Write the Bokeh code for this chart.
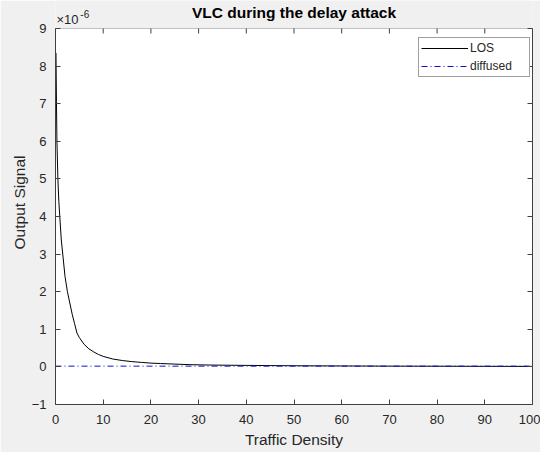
from bokeh.plotting import figure
from bokeh.models import (Range1d, FixedTicker, LinearAxis, Label, Legend, LegendItem,
                          ColumnDataSource, BoxAnnotation)
from bokeh.embed import file_html
from bokeh.resources import INLINE

# Data
traffic_density = [0.1, 0.2, 0.3, 0.5, 0.7, 0.9, 1.2, 1.6, 2.0, 2.5, 3.0, 3.5, 4.0, 4.5,
                   5.0, 6.0, 7.0, 8.0, 9.0, 10, 12, 14, 16, 18, 20, 22, 25, 28, 32, 36,
                   40, 45, 50, 60, 70, 80, 90, 100]
los_signal = [8.35, 7.05, 6.0, 5.0, 4.4, 4.0, 3.4, 2.9, 2.4, 2.0, 1.7, 1.4, 1.15, 0.9,
              0.78, 0.6, 0.48, 0.4, 0.33, 0.28, 0.21, 0.17, 0.14, 0.12, 0.10, 0.09,
              0.075, 0.06, 0.05, 0.045, 0.04, 0.035, 0.03, 0.025, 0.02, 0.018, 0.015, 0.013]
diffused_x = [0, 100]
diffused_signal = [0.02, 0.02]
x_ticks = [0, 10, 20, 30, 40, 50, 60, 70, 80, 90, 100]
y_ticks = [-1, 0, 1, 2, 3, 4, 5, 6, 7, 8, 9]
x_min, x_max = 0, 100
y_min, y_max = -1, 9

FONT = "Liberation Sans"
AX = "#404040"
TXT = "#262626"
BG = "#f0f0f0"

W, H = 540, 452
B_LEFT, B_RIGHT, B_TOP, B_BOTTOM = 55, 8, 28, 48
px_per_unit = (H - B_TOP - B_BOTTOM) / (y_max - y_min)
y_top = y_max + B_TOP / px_per_unit          # frame extends into the title band
tick_len = 5 / px_per_unit

p = figure(width=W, height=H, x_range=Range1d(x_min, x_max), y_range=Range1d(y_min, y_top),
           output_backend="svg", toolbar_location=None,
           min_border_left=B_LEFT, min_border_right=B_RIGHT, min_border_top=0,
           min_border_bottom=B_BOTTOM,
           border_fill_color=BG, background_fill_color=BG, outline_line_color=None)

p.xgrid.visible = False
p.ygrid.visible = False

# white plotting box with MATLAB-like border
p.add_layout(BoxAnnotation(left=x_min, right=x_max, bottom=y_min, top=y_max,
                           fill_color="white", fill_alpha=1, line_color=AX, line_width=1,
                           level="underlay"))

def style_axis(ax, labels=True, standoff=9):
    ax.axis_line_color = AX
    ax.major_tick_line_color = AX
    ax.major_tick_in = 5
    ax.major_tick_out = 0
    ax.minor_tick_line_color = None
    ax.major_label_text_font = FONT
    ax.major_label_text_font_size = "13px"
    ax.major_label_text_color = TXT if labels else None
    ax.major_label_standoff = standoff if labels else 0
    ax.axis_label_text_font = FONT
    ax.axis_label_text_color = TXT
    ax.axis_label_text_font_size = "15.5px"
    ax.axis_label_text_font_style = "normal"

p.xaxis.ticker = FixedTicker(ticks=x_ticks)
p.yaxis.ticker = FixedTicker(ticks=y_ticks)
p.yaxis.bounds = (y_min, y_max)
p.xaxis.axis_label = "Traffic Density"
p.yaxis.axis_label = "Output Signal"
style_axis(p.xaxis[0], standoff=10)
style_axis(p.yaxis[0], standoff=9)
p.xaxis.axis_label_standoff = 4
p.yaxis.axis_label_standoff = 1

right_ax = LinearAxis(ticker=FixedTicker(ticks=y_ticks), bounds=(y_min, y_max))
style_axis(right_ax, labels=False)
p.add_layout(right_ax, "right")

# inward ticks along the top edge of the box
p.segment(x0=x_ticks, y0=[y_max] * len(x_ticks), x1=x_ticks,
          y1=[y_max - tick_len] * len(x_ticks), line_color=AX, line_width=1)

src_los = ColumnDataSource(dict(x=traffic_density, y=los_signal))
src_dif = ColumnDataSource(dict(x=diffused_x, y=diffused_signal))
r1 = p.line("x", "y", source=src_los, line_color="black", line_width=1)
r2 = p.line("x", "y", source=src_dif, line_color="#1010c8", line_width=1, line_dash="6 3 1 3")

legend = Legend(items=[LegendItem(label="LOS", renderers=[r1]),
                       LegendItem(label="diffused", renderers=[r2])],
                location=(363, 327), margin=0, padding=2, spacing=2,
                glyph_width=47, glyph_height=16, label_height=16, label_standoff=2,
                label_width=57,
                label_text_font=FONT, label_text_font_size="12px", label_text_color=TXT,
                border_line_color=AX, border_line_width=1,
                background_fill_color="white", background_fill_alpha=1)
p.add_layout(legend, "center")

p.add_layout(Label(x=(x_min + x_max) / 2, y=y_max + 16.3 / px_per_unit,
                   text="VLC during the delay attack", text_align="center",
                   text_baseline="alphabetic", text_font=FONT, text_font_size="15.5px",
                   text_font_style="bold", text_color="black"))
p.add_layout(Label(x=0.2, y=y_max + 9 / px_per_unit, text="\u00d710",
                   text_align="left", text_baseline="alphabetic", text_font=FONT,
                   text_font_size="13px", text_color=TXT))
p.add_layout(Label(x=5.2, y=y_max + 14.7 / px_per_unit, text="-6",
                   text_align="left", text_baseline="alphabetic", text_font=FONT,
                   text_font_size="10px", text_color=TXT))

open("out.html", "w").write(file_html(p, INLINE))
